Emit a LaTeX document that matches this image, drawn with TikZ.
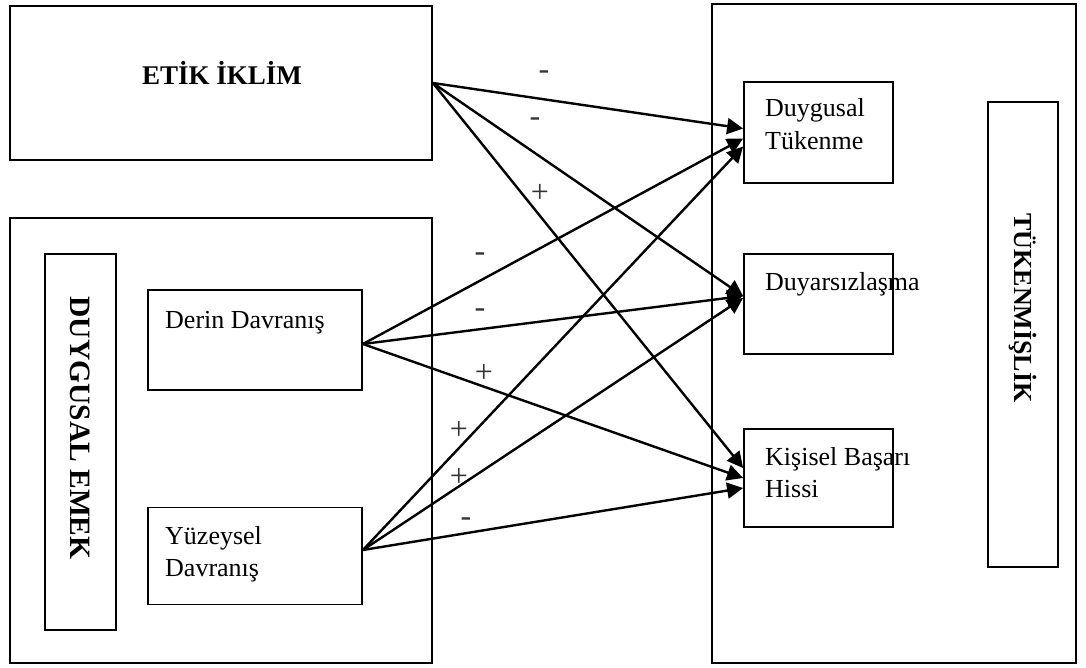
\documentclass[tikz,border=0pt]{standalone}
\usepackage{fontspec}
\setmainfont{Liberation Serif}
\usetikzlibrary{arrows.meta,calc}
\begin{document}
\begin{tikzpicture}[x=1pt,y=-1pt,
  box/.style={draw,line width=1.8pt,rectangle,inner sep=0pt},
  txt/.style={font=\fontsize{26}{30}\selectfont,inner sep=0pt,anchor=base west},
  big/.style={font=\fontsize{27}{30}\selectfont\bfseries,inner sep=0pt},
  sgn/.style={font=\fontsize{32}{34}\selectfont,inner sep=0pt,text=black!80},
  arr/.style={line width=2.4pt,-{Triangle[length=16pt,width=16pt]}}]
\useasboundingbox (0,0) rectangle (1086,668);
% boxes
\node[box,minimum width=422pt,minimum height=154pt] (etik) at (221,83) {};
\node[box,minimum width=422pt,minimum height=445pt] (de) at (221,440.5) {};
\node[box,minimum width=71pt,minimum height=376pt] (dev) at (80.5,442) {};
\node[box,minimum width=214pt,minimum height=100pt] (derin) at (255,340) {};
\node[box,minimum width=214pt,minimum height=97pt] (yuz) at (255,556) {};
\node[box,minimum width=364pt,minimum height=659pt] (tk) at (894,333.5) {};
\node[box,minimum width=149pt,minimum height=101pt] (dt) at (818.5,132.5) {};
\node[box,minimum width=149pt,minimum height=100pt] (dy) at (818.5,304) {};
\node[box,minimum width=149pt,minimum height=98pt] (kb) at (818.5,478) {};
\node[box,minimum width=70pt,minimum height=465pt] (tkv) at (1023,334.5) {};
% texts
\node[big] (etikt) at (222,73) {ETİK İKLİM};
\node[big,font=\fontsize{29.5}{32}\selectfont\bfseries,rotate=-90] (devt) at (80,428) {DUYGUSAL EMEK};
\node[big,font=\fontsize{26}{30}\selectfont\bfseries,rotate=-90] (tkvt) at (1023,308) {TÜKENMİŞLİK};
\node[txt] (derint) at (165,328) {Derin Davranış};
\node[txt] (yuzt1) at (165,544) {Yüzeysel};
\node[txt] (yuzt2) at (165,576) {Davranış};
\node[txt] (dtt1) at (765,117) {Duygusal};
\node[txt] (dtt2) at (765,150) {Tükenme};
\node[txt] (dyt) at (765,290) {Duyarsızlaşma};
\node[txt] (kbt1) at (765,465) {Kişisel Başarı};
\node[txt] (kbt2) at (765,497) {Hissi};
% arrows
\draw[arr] (etik.east) -- ($(dt.west)+(0,-4)$);
\draw[arr] (etik.east) -- ($(dy.west)+(0,-8)$);
\draw[arr] (etik.east) -- ($(kb.west)+(0,-10)$);
\draw[arr] ($(derin.east)+(0,4)$) -- ($(dt.west)+(0,6)$);
\draw[arr] ($(derin.east)+(0,4)$) -- ($(dy.west)+(0,-8)$);
\draw[arr] ($(derin.east)+(0,4)$) -- ($(kb.west)+(0,0)$);
\draw[arr] ($(yuz.east)+(0,-6)$) -- ($(dt.west)+(0,14)$);
\draw[arr] ($(yuz.east)+(0,-6)$) -- ($(dy.west)+(0,-6)$);
\draw[arr] ($(yuz.east)+(0,-6)$) -- ($(kb.west)+(0,10)$);
% signs
\node[sgn] (s1) at (544,75) {-};
\node[sgn] (s2) at (535,122) {-};
\node[sgn] (s3) at (540,193) {+};
\node[sgn] (s4) at (480,257) {-};
\node[sgn] (s5) at (480,313) {-};
\node[sgn] (s6) at (484,373) {+};
\node[sgn] (s7) at (459,430) {+};
\node[sgn] (s8) at (459,477) {+};
\node[sgn] (s9) at (466,522) {-};
\end{tikzpicture}
\end{document}
